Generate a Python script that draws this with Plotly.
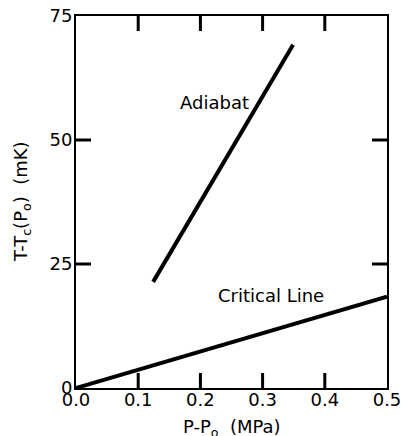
import plotly.graph_objects as go

# Data
critical_x = [0.0, 0.5]
critical_y = [0.0, 18.4]
adiabat_x = [0.124, 0.349]
adiabat_y = [21.4, 69.2]

x_range = [0.0, 0.5]
x_tick_step = 0.1
x_inner_ticks = [0.1, 0.2, 0.3, 0.4]
y_range = [0, 75]
y_tick_step = 25
y_inner_ticks = [25, 50]

FONT = "DejaVu Sans"
W, H = 402, 436
M_L, M_R, M_T, M_B = 76, 15, 16, 48
TICK_LEN = 15  # px

plot_w = W - M_L - M_R
plot_h = H - M_T - M_B
tlx = (x_range[1] - x_range[0]) * TICK_LEN / plot_w
tly = (y_range[1] - y_range[0]) * TICK_LEN / plot_h

fig = go.Figure()
fig.add_trace(go.Scatter(x=critical_x, y=critical_y, mode="lines",
                         line=dict(color="black", width=4), showlegend=False))
fig.add_trace(go.Scatter(x=adiabat_x, y=adiabat_y, mode="lines",
                         line=dict(color="black", width=4), showlegend=False))

# Inward tick marks on all four sides, as line segments from the tick lists
tx, ty = [], []
for v in x_inner_ticks:
    tx += [v, v, None, v, v, None]
    ty += [y_range[0], y_range[0] + tly, None, y_range[1], y_range[1] - tly, None]
for v in y_inner_ticks:
    tx += [x_range[0], x_range[0] + tlx, None, x_range[1], x_range[1] - tlx, None]
    ty += [v, v, None, v, v, None]
fig.add_trace(go.Scatter(x=tx, y=ty, mode="lines", connectgaps=False,
                         line=dict(color="black", width=3),
                         showlegend=False, hoverinfo="skip"))

fig.add_annotation(x=0.223, y=57.6, text="Adiabat", showarrow=False,
                   font=dict(family=FONT, size=18, color="black"))
fig.add_annotation(x=0.313, y=18.7, text="Critical Line", showarrow=False,
                   font=dict(family=FONT, size=18, color="black"))

# Axis titles
fig.add_annotation(xref="paper", yref="paper", x=0.5, y=0, yshift=-40,
                   xanchor="center", yanchor="middle",
                   text="P-P<sub>o</sub>  (MPa)", showarrow=False,
                   font=dict(family=FONT, size=18, color="black"))
fig.add_annotation(xref="paper", yref="paper", x=0, y=0.5, xshift=-54,
                   xanchor="center", yanchor="middle",
                   text="T-T<sub>c</sub>(P<sub>o</sub>)  (mK)", showarrow=False,
                   textangle=-90, font=dict(family=FONT, size=18, color="#000000"))

axis_common = dict(
    tickmode="linear", showgrid=False, zeroline=False,
    showline=True, linecolor="black", linewidth=2, mirror=True,
    ticks="inside", ticklen=TICK_LEN, tickwidth=2, tickcolor="black",
    tickfont=dict(family=FONT, size=18, color="black"), automargin=False,
)

fig.update_layout(
    template="none",
    width=W, height=H,
    margin=dict(l=M_L, r=M_R, t=M_T, b=M_B),
    paper_bgcolor="white", plot_bgcolor="white",
    font=dict(family=FONT, size=18, color="black"),
    xaxis=dict(range=x_range, tick0=0, dtick=x_tick_step, tickformat=".1f",
               ticklabelstandoff=-6, **axis_common),
    yaxis=dict(range=y_range, tick0=0, dtick=y_tick_step, tickformat="d",
               ticklabelstandoff=-2, **axis_common),
)

fig.write_html("out.html")
